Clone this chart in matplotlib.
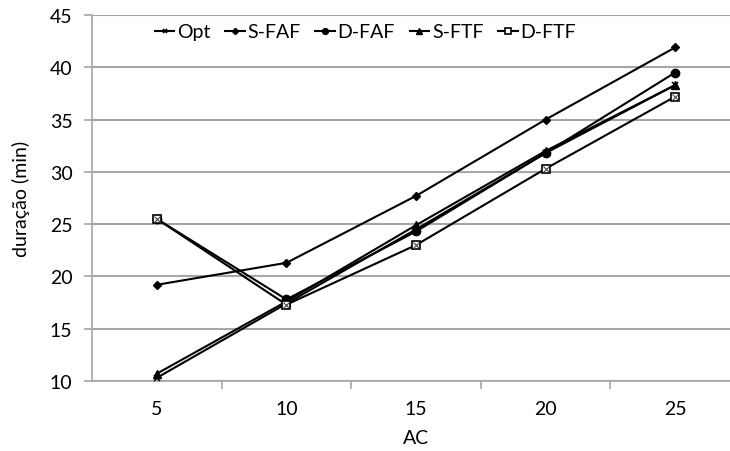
import matplotlib.pyplot as plt
import numpy as np

plt.rcParams['font.family'] = ['Lato', 'DejaVu Sans']

ac = ['5', '10', '15', '20', '25']
opt = [10.3, 17.4, 24.5, 31.8, 38.3]
s_faf = [19.2, 21.3, 27.7, 35.0, 41.9]
d_faf = [25.5, 17.8, 24.3, 31.8, 39.5]
s_ftf = [10.7, 17.6, 24.9, 32.0, 38.3]
d_ftf = [25.5, 17.3, 23.0, 30.3, 37.2]

W, H = 730, 452
fig = plt.figure(figsize=(W / 100, H / 100), dpi=100)
ax = fig.add_axes([92 / W, 70 / H, 648 / W, 366 / H])

x = np.arange(1, len(ac) + 1)
grid_c = '#a6a6a6'
fs = 14

ax.plot(x, opt, color='black', lw=1.5, marker='x', ms=5, mew=1.2, label='Opt', zorder=3)
ax.plot(x, s_faf, color='black', lw=1.5, marker='D', ms=4.5, label='S-FAF', zorder=3)
ax.plot(x, d_faf, color='black', lw=1.5, marker='o', ms=6, label='D-FAF', zorder=3)
ax.plot(x, s_ftf, color='black', lw=1.5, marker='^', ms=6, label='S-FTF', zorder=3)
ax.plot(x, d_ftf, color='black', lw=1.5, marker='s', ms=6, mfc='white', mew=1.2,
        label='D-FTF', zorder=4)
ax.plot(x, d_ftf, ls='none', marker='x', ms=4, mew=0.8, color='#444444', zorder=5)

ax.set_xlim(0.5, len(ac) + 0.5)
ax.set_ylim(10, 45)
ax.set_yticks(range(10, 46, 5))
ax.yaxis.grid(True, color=grid_c, lw=1.5)
ax.set_axisbelow(True)

ax.set_xticks(np.arange(1.5, len(ac), 1.0))
ax.set_xticklabels([])
ax.set_xticks(x, minor=True)
ax.set_xticklabels(ac, minor=True)
ax.tick_params(axis='x', which='major', length=6, color=grid_c, width=1.2)
ax.tick_params(axis='x', which='minor', length=0, pad=14, labelsize=fs)
ax.tick_params(axis='y', length=6, color=grid_c, width=1.2, labelsize=fs, pad=8)

for s in ['top', 'right']:
    ax.spines[s].set_visible(False)
for s in ['left', 'bottom']:
    ax.spines[s].set_color(grid_c)
    ax.spines[s].set_linewidth(1.2)

ax.set_xlabel('AC', fontsize=fs, labelpad=8)
ax.set_ylabel('duração (min)', fontsize=fs, labelpad=14)

ax.legend(ncol=5, loc='upper left', bbox_to_anchor=(0.07, 1.025), frameon=False,
          fontsize=fs, handlelength=1.0, handletextpad=0.15, columnspacing=0.75,
          markerscale=0.7)

fig.savefig('out.png', dpi=100)
